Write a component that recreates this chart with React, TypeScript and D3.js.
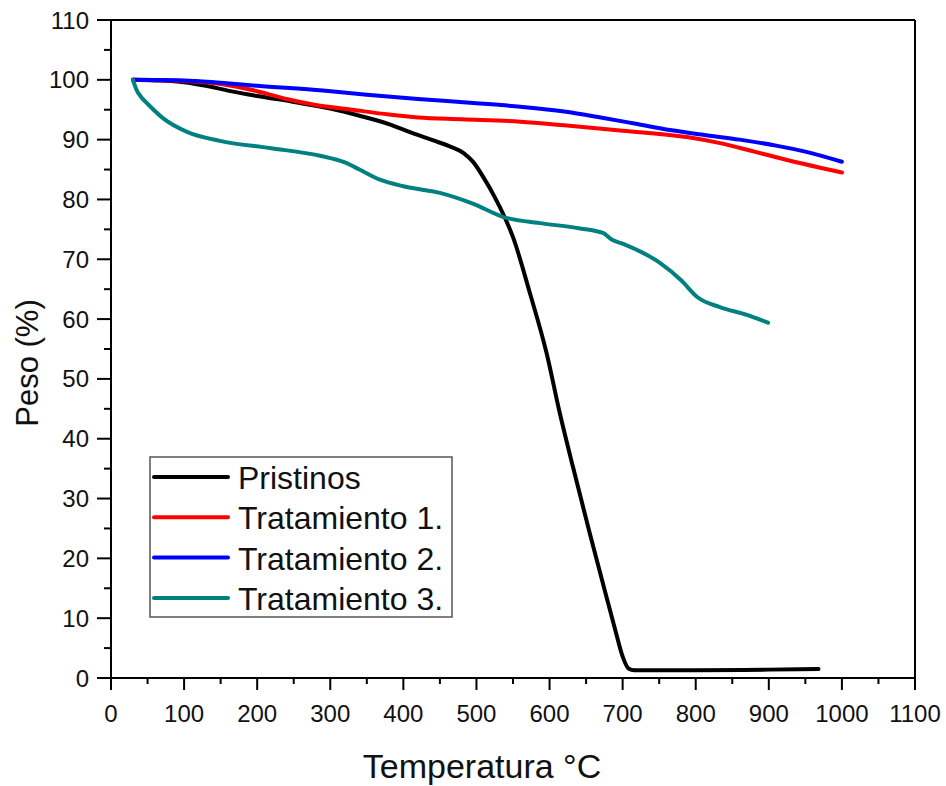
import * as d3 from "d3";

// temperatura (°C), peso (%)
const pristinos: [number, number][] = [
  [30, 100], [60, 99.9], [100, 99.6], [130, 99], [160, 98.2], [200, 97.3],
  [250, 96.3], [300, 95.2], [340, 94], [380, 92.6], [410, 91.2], [440, 89.9],
  [465, 88.8], [482, 87.8], [496, 86.2], [510, 83.6], [525, 80.4], [538, 77.2],
  [550, 73.7], [573, 64.4], [596, 54.3], [614, 44.3], [632, 35.3], [655, 24.2],
  [678, 13.5], [690, 8], [700, 3.6], [708, 1.6], [716, 1.3], [800, 1.3],
  [900, 1.4], [968, 1.5],
];

const tratamiento1: [number, number][] = [
  [30, 100], [100, 99.8], [150, 99.3], [200, 98.1], [240, 96.8], [280, 95.8],
  [330, 95], [380, 94.2], [420, 93.7], [480, 93.4], [560, 93], [620, 92.4],
  [700, 91.5], [790, 90.4], [830, 89.5], [880, 88], [925, 86.6], [1000, 84.5],
];

const tratamiento2: [number, number][] = [
  [30, 100], [100, 99.9], [150, 99.5], [200, 99], [290, 98.2], [350, 97.5],
  [420, 96.8], [500, 96.1], [560, 95.5], [620, 94.7], [670, 93.7], [720, 92.6],
  [765, 91.6], [810, 90.8], [860, 90], [910, 89], [950, 88], [1000, 86.3],
];

const tratamiento3: [number, number][] = [
  [30, 100], [35, 98.3], [42, 97], [50, 96], [71, 93.6], [104, 91.3],
  [149, 89.8], [217, 88.6], [286, 87.3], [320, 86.2], [340, 85], [368, 83.3],
  [400, 82.2], [450, 81.1], [495, 79.3], [536, 77.1], [590, 76], [640, 75.2],
  [673, 74.4], [685, 73.3], [700, 72.6], [751, 69.4], [780, 66.5], [802, 63.7],
  [833, 62], [870, 60.7], [899, 59.4],
];

const seriesNames = ["Pristinos", "Tratamiento 1.", "Tratamiento 2.", "Tratamiento 3."];
const seriesColors = ["#000000", "#ff0000", "#0000ff", "#008080"];
const seriesData = [pristinos, tratamiento1, tratamiento2, tratamiento3];

const xTicks = [0, 100, 200, 300, 400, 500, 600, 700, 800, 900, 1000, 1100];
const yTicks = [0, 10, 20, 30, 40, 50, 60, 70, 80, 90, 100, 110];

const W = 946;
const H = 786;
const left = 111;
const right = 915;
const top = 20;
const bot = 678;
const font = "Liberation Sans, Arial, sans-serif";

export default function App() {
  const x = d3.scaleLinear().domain([0, 1100]).range([left, right]);
  const y = d3.scaleLinear().domain([0, 110]).range([bot, top]);

  const line = d3
    .line<[number, number]>()
    .x((d) => x(d[0]))
    .y((d) => y(d[1]))
    .curve(d3.curveMonotoneX);

  const xMinor = xTicks.slice(0, -1).map((t) => t + 50);
  const yMinor = yTicks.slice(0, -1).map((t) => t + 5);

  return (
    <svg
      width={W}
      height={H}
      style={{ position: "absolute", left: 0, top: 0, background: "#fff" }}
      fontFamily={font}
    >
      <g id="lines">
        {seriesData.map((d, i) => (
          <path
            key={i}
            d={line(d) || ""}
            fill="none"
            stroke={seriesColors[i]}
            strokeWidth={4}
            strokeLinecap="round"
            strokeLinejoin="round"
          />
        ))}
      </g>

      {/* frame */}
      <line x1={left} x2={right} y1={top} y2={top} stroke="#000" strokeWidth={2} />
      <line x1={right} x2={right} y1={top} y2={bot} stroke="#000" strokeWidth={2} />
      <line x1={left} x2={left} y1={top} y2={bot + 1} stroke="#000" strokeWidth={2} />
      <line x1={left - 1} x2={right + 1} y1={bot} y2={bot} stroke="#000" strokeWidth={2} />

      <g id="axis-x">
        {xTicks.map((t) => (
          <g key={t}>
            <line x1={x(t)} x2={x(t)} y1={bot} y2={bot + 12} stroke="#000" strokeWidth={2} />
            <text x={x(t)} y={722} textAnchor="middle" fontSize={24} fill="#111">
              {t}
            </text>
          </g>
        ))}
        {xMinor.map((t) => (
          <line key={t} x1={x(t)} x2={x(t)} y1={bot} y2={bot + 6} stroke="#000" strokeWidth={2} />
        ))}
        <text x={482} y={778} textAnchor="middle" fontSize={34} fill="#111">
          Temperatura °C
        </text>
      </g>

      <g id="axis-y">
        {yTicks.map((t) => (
          <g key={t}>
            <line x1={left - 14} x2={left} y1={y(t)} y2={y(t)} stroke="#000" strokeWidth={2} />
            <text x={89} y={y(t) + 8.5} textAnchor="end" fontSize={24} fill="#111">
              {t}
            </text>
          </g>
        ))}
        {yMinor.map((t) => (
          <line key={t} x1={left - 7} x2={left} y1={y(t)} y2={y(t)} stroke="#000" strokeWidth={2} />
        ))}
        <text
          transform={`translate(38, 363) rotate(-90)`}
          textAnchor="middle"
          fontSize={31}
          fill="#111"
        >
          Peso (%)
        </text>
      </g>

      <g id="legend">
        <rect x={150} y={457} width={302} height={160} fill="#fff" stroke="#555" strokeWidth={1.5} />
        {seriesNames.map((n, i) => (
          <g key={n}>
            <line
              x1={154}
              x2={228}
              y1={477 + i * 40.3}
              y2={477 + i * 40.3}
              stroke={seriesColors[i]}
              strokeWidth={4}
              strokeLinecap="round"
            />
            <text x={238} y={489 + i * 40.3} fontSize={32} fill="#111">
              {n}
            </text>
          </g>
        ))}
      </g>
    </svg>
  );
}
